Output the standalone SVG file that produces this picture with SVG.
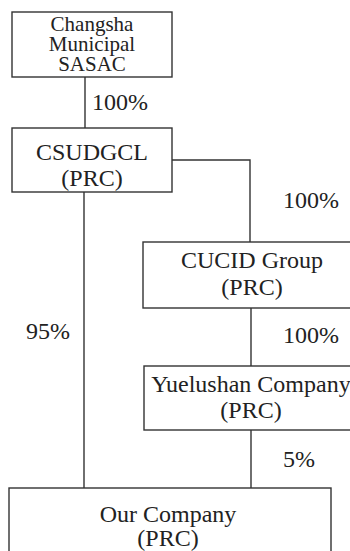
<svg xmlns="http://www.w3.org/2000/svg" width="350" height="551" viewBox="0 0 350 551">
<rect x="0" y="0" width="350" height="551" fill="#fff"/>
<g id="connectors" stroke="#333" stroke-width="1.4" fill="none">
<line x1="85" y1="77" x2="85" y2="128"/>
<polyline points="172,160 250,160 250,242"/>
<line x1="251" y1="308" x2="251" y2="366"/>
<line x1="251" y1="430" x2="251" y2="488"/>
<line x1="84" y1="192" x2="84" y2="488"/>
</g>
<g id="labels" fill="#222">
<text font-family="Liberation Serif" font-size="24" x="92" y="110">100%</text>
<text font-family="Liberation Serif" font-size="24" x="283" y="208">100%</text>
<text font-family="Liberation Serif" font-size="24" x="26" y="339">95%</text>
<text font-family="Liberation Serif" font-size="24" x="283" y="343">100%</text>
<text font-family="Liberation Serif" font-size="24" x="283" y="467">5%</text>
</g>
<g id="sasac">
<rect x="12" y="12" width="160" height="65" fill="#fff" stroke="#333" stroke-width="1.4"/>
<text font-family="Liberation Serif" font-size="21" fill="#222" text-anchor="middle" x="92" y="31">Changsha</text>
<text font-family="Liberation Serif" font-size="21" fill="#222" text-anchor="middle" x="92" y="51">Municipal</text>
<text font-family="Liberation Serif" font-size="21" fill="#222" text-anchor="middle" x="92" y="71">SASAC</text>
</g>
<g id="csudgcl">
<rect x="12" y="128" width="160" height="64" fill="#fff" stroke="#333" stroke-width="1.4"/>
<text font-family="Liberation Serif" font-size="24" fill="#222" text-anchor="middle" x="92" y="160">CSUDGCL</text>
<text font-family="Liberation Serif" font-size="24" fill="#222" text-anchor="middle" x="92" y="186">(PRC)</text>
</g>
<g id="cucid">
<rect x="143" y="242" width="220" height="66" fill="#fff" stroke="#333" stroke-width="1.4"/>
<text font-family="Liberation Serif" font-size="24" fill="#222" text-anchor="middle" x="252" y="268">CUCID Group</text>
<text font-family="Liberation Serif" font-size="24" fill="#222" text-anchor="middle" x="252" y="295">(PRC)</text>
</g>
<g id="yuelushan">
<rect x="144" y="366" width="220" height="64" fill="#fff" stroke="#333" stroke-width="1.4"/>
<text font-family="Liberation Serif" font-size="24" fill="#222" text-anchor="middle" x="251" y="392">Yuelushan Company</text>
<text font-family="Liberation Serif" font-size="24" fill="#222" text-anchor="middle" x="251" y="418">(PRC)</text>
</g>
<g id="our">
<rect x="9" y="488" width="322" height="80" fill="#fff" stroke="#333" stroke-width="1.4"/>
<text font-family="Liberation Serif" font-size="24" fill="#222" text-anchor="middle" x="168" y="522">Our Company</text>
<text font-family="Liberation Serif" font-size="24" fill="#222" text-anchor="middle" x="168" y="546">(PRC)</text>
</g>
</svg>
